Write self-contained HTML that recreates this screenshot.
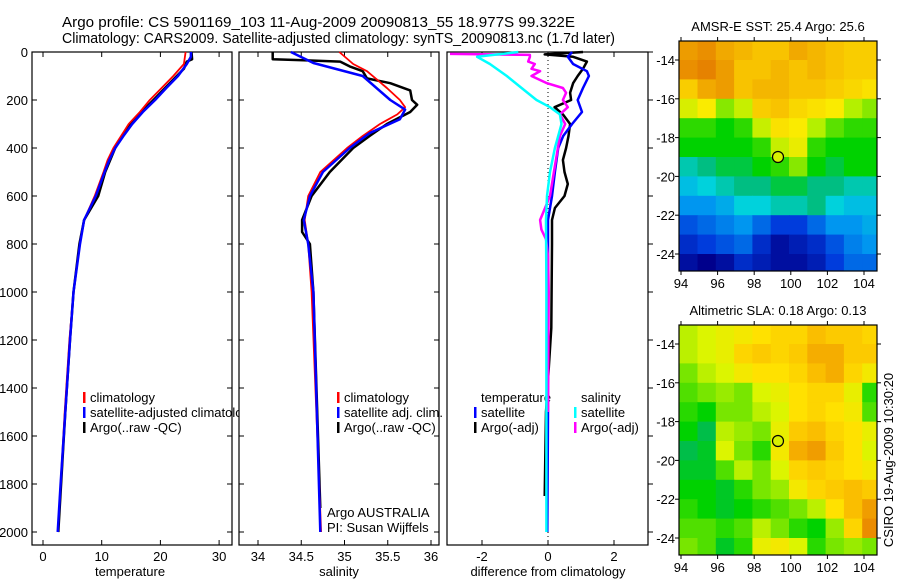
<!DOCTYPE html>
<html><head><meta charset="utf-8"><style>
html,body{margin:0;padding:0;background:#fff;}
svg{display:block;font-family:"Liberation Sans",sans-serif;}
</style></head><body>
<svg id="chart" width="900" height="580" viewBox="0 0 900 580">
<text x="62" y="27" font-size="15" textLength="513" lengthAdjust="spacingAndGlyphs">Argo profile: CS 5901169_103 11-Aug-2009 20090813_55 18.977S 99.322E</text>
<text x="62" y="43" font-size="15" textLength="553" lengthAdjust="spacingAndGlyphs">Climatology: CARS2009. Satellite-adjusted climatology: synTS_20090813.nc (1.7d later)</text>
<g id="g1"></g>
<g id="g2"></g>
<g id="g3"></g>
<g id="m1"></g>
<g id="m2"></g>
<text transform="translate(893,460) rotate(-90)" font-size="13" text-anchor="middle">CSIRO 19-Aug-2009 10:30:20</text>
</svg>
<script>
// ---- data ----
const tBlueD=[0,20,50,100,150,200,250,300,350,400,450,500,600,700,800,1000,1200,1500,1800,2000];
const tBlueV=[25.2,25.2,24.5,23.0,21.0,19.1,17.0,15.2,13.7,12.3,11.3,10.5,9.0,7.0,6.3,5.2,4.6,3.8,3.0,2.5];
const tRedD=[0,50,100,150,200,250,300,350,400,450,500,600,700,800,1000,1200,1500,1800,1880];
const tRedV=[24.3,24.0,22.2,20.2,18.2,16.5,14.6,13.3,12.0,11.0,10.3,8.8,7.0,6.3,5.2,4.5,3.7,3.0,2.8];
const tBlkD=[0,30,40,70,100,150,200,250,300,350,400,500,600,700,800,1000,1200,1500,2000];
const tBlkV=[25.3,25.4,24.5,24.0,22.8,20.8,18.8,16.8,14.8,13.5,12.3,10.6,9.4,7.0,6.2,5.2,4.6,3.8,2.6];
const sBlueD=[0,46,100,200,240,280,338,400,500,600,700,800,1000,2000];
const sBlueV=[34.38,34.64,35.21,35.53,35.70,35.64,35.29,35.06,34.75,34.60,34.53,34.58,34.64,34.72];
const sRedD=[0,50,80,150,200,230,260,300,350,400,500,600,700,800,1000,2000];
const sRedV=[34.94,35.10,35.26,35.49,35.64,35.70,35.61,35.41,35.21,35.03,34.72,34.58,34.54,34.58,34.62,34.73];
const sBlkD=[0,30,35,40,60,80,110,130,160,200,220,250,300,350,400,500,600,700,750,800,1000,1900];
const sBlkV=[34.17,34.17,34.57,34.95,35.06,35.21,35.26,35.53,35.76,35.78,35.84,35.76,35.49,35.29,35.10,34.83,34.62,34.51,34.51,34.60,34.64,34.72];
const dTsD=[0,20,50,80,100,150,200,250,300,350,400,500,600,700,1000,1500,2000];
const dTsV=[0.73,0.6,0.76,1.18,1.24,1.06,0.9,1.03,0.73,0.46,0.31,0.21,0.12,0.0,0.0,0.0,-0.02];
const dTaD=[0,10,20,40,70,100,130,170,200,230,260,300,350,400,450,500,550,600,650,700,800,1150,1500,1850];
const dTaV=[1.06,-0.1,0.76,1.18,1.06,0.9,0.76,0.67,0.7,0.2,0.45,0.67,0.62,0.55,0.45,0.5,0.6,0.5,0.21,0.12,0.12,0.1,-0.06,-0.1];
const dSsD=[0,20,50,100,150,200,230,260,300,400,500,600,700,1000,1500,2000];
const dSsV=[-0.9,-2.15,-1.76,-1.25,-0.8,-0.35,0.06,0.36,0.41,0.21,0.06,-0.03,-0.06,-0.05,-0.05,-0.05];
const dSaD=[8,12,20,40,50,70,80,100,130,150,170,200,230,260,300,350,400,500,600,700,740,780,850,1000,1500];
const dSaV=[-2.97,-0.55,-0.55,-0.6,-0.4,-0.5,-0.24,-0.5,-0.03,0.45,0.55,0.45,0.6,0.36,0.52,0.36,0.3,0.18,0.06,-0.24,-0.2,-0.06,0.0,0.02,0.0];
const depthTicks=[0,200,400,600,800,1000,1200,1400,1600,1800,2000];
const tempTicks=[0,10,20,30];
const salTicks=[34,34.5,35,35.5,36];
const diffTicks=[-2,0,2];
const lonTicks=[94,96,98,100,102,104];
const latTicks=[14,16,18,20,22,24];
const sstGrid=[
[26.6,26.7,26.5,26.4,26.3,26.3,26.5,26.4,26.3,26.2,26.2],
[26.7,26.8,26.6,26.3,26.3,26.4,26.3,26.4,26.3,26.2,26.2],
[26.2,26.5,26.6,26.3,26.4,26.4,26.3,26.3,26.2,26.1,26.0],
[25.7,25.9,25.4,25.6,26.2,26.3,26.1,26.0,25.9,25.5,25.4],
[25.2,25.2,25.1,25.2,25.6,26.0,25.9,25.5,25.3,25.2,25.2],
[25.1,25.1,25.1,25.1,25.2,25.6,25.8,25.2,25.1,25.1,25.1],
[24.8,24.9,25.0,25.0,25.1,25.2,25.4,25.1,25.0,25.1,25.1],
[24.6,24.7,24.8,24.9,24.9,25.0,25.0,24.9,24.9,24.8,24.8],
[24.4,24.4,24.5,24.7,24.7,24.8,24.8,24.9,24.7,24.6,24.6],
[24.1,24.2,24.3,24.4,24.2,24.0,24.0,24.2,24.4,24.4,24.5],
[23.9,24.0,24.1,24.2,23.9,23.7,23.8,23.9,24.1,24.3,24.4],
[23.7,23.6,23.7,23.9,23.8,23.7,23.7,23.8,24.0,24.2,24.2]];
const slaGrid=[
[0.12,0.13,0.14,0.15,0.16,0.17,0.17,0.19,0.18,0.18,0.17],
[0.12,0.13,0.14,0.17,0.18,0.17,0.18,0.20,0.20,0.18,0.18],
[0.10,0.12,0.13,0.15,0.16,0.16,0.17,0.19,0.20,0.17,0.15],
[0.09,0.10,0.11,0.10,0.13,0.14,0.16,0.17,0.17,0.14,0.08],
[0.08,0.07,0.10,0.10,0.12,0.13,0.16,0.17,0.16,0.15,0.09],
[0.07,0.05,0.12,0.11,0.10,0.14,0.18,0.19,0.17,0.16,0.14],
[0.05,0.06,0.13,0.10,0.08,0.15,0.20,0.21,0.18,0.16,0.13],
[0.06,0.06,0.09,0.12,0.10,0.13,0.17,0.18,0.17,0.16,0.15],
[0.07,0.07,0.06,0.08,0.10,0.11,0.15,0.17,0.18,0.19,0.18],
[0.08,0.07,0.06,0.07,0.08,0.09,0.10,0.12,0.16,0.19,0.21],
[0.09,0.09,0.08,0.09,0.12,0.10,0.08,0.07,0.11,0.17,0.22],
[0.10,0.09,0.06,0.08,0.14,0.15,0.13,0.08,0.10,0.11,0.10]];
const argoLon=99.3, argoLat=19.0;

// ---- helpers ----
const NS='http://www.w3.org/2000/svg';
function mk(tag,attrs,parent){const e=document.createElementNS(NS,tag);for(const k in attrs)e.setAttribute(k,attrs[k]);parent.appendChild(e);return e;}
const yD=d=>52+d*0.24;
const PT=545;
function panel(g,x0,x1,name){
  const r=mk('rect',{x:x0,y:52,width:x1-x0,height:PT-52,fill:'#fff',stroke:'#000','stroke-width':1.2},g);
  
  
}
function line(g,ds,vs,fx,color,w,name){
  const pts=ds.map((d,i)=>fx(vs[i]).toFixed(1)+','+yD(d).toFixed(1)).join(' ');
  const p=mk('polyline',{points:pts,fill:'none',stroke:color,'stroke-width':w,'stroke-linejoin':'round'},g);
  
  
}
function xticks(g,ticks,fx,labelY,name){
  ticks.forEach(t=>{
    mk('line',{x1:fx(t),x2:fx(t),y1:PT,y2:PT-5,stroke:'#000'},g);
    mk('line',{x1:fx(t),x2:fx(t),y1:52,y2:57,stroke:'#000'},g);
    const tx=mk('text',{x:fx(t),y:labelY,'font-size':13,'text-anchor':'middle'},g);
    tx.textContent=String(t);
    
    
  });
}
function legend(g,x,y0,items){
  items.forEach((it,i)=>{
    const y=y0+i*15;
    if(it[1]) mk('rect',{x:x,y:y-10,width:2.5,height:11,fill:it[1]},g);
    const t=mk('text',{x:x+7,y:y,'font-size':13},g);
    t.textContent=it[0];
    
    
  });
}
function xlabel(g,x,txt,name){const t=mk('text',{x:x,y:576,'font-size':13,'text-anchor':'middle'},g);t.textContent=txt;}

// ---- panel 1 temperature ----
const g1=document.getElementById('g1');
const fT=v=>43+v*5.87;
panel(g1,32,232,'temperature-panel');
depthTicks.forEach(d=>{
  mk('line',{x1:32,x2:37,y1:yD(d),y2:yD(d),stroke:'#000'},g1);
  mk('line',{x1:232,x2:227,y1:yD(d),y2:yD(d),stroke:'#000'},g1);
  const t=mk('text',{x:28,y:yD(d)+5,'font-size':13,'text-anchor':'end'},g1);
  t.textContent=String(d);
  
  
});
xticks(g1,tempTicks,fT,561,'temperature');
xlabel(g1,130,'temperature','temperature-axis-title');
legend(g1,83,402,[['climatology','#f00'],['satellite-adjusted climatology','#00f'],['Argo(..raw -QC)','#000']]);
line(g1,tBlkD,tBlkV,fT,'#000',2.5,'temperature-argo-line');
line(g1,tRedD,tRedV,fT,'#f00',1.8,'temperature-climatology-line');
line(g1,tBlueD,tBlueV,fT,'#00f',2.5,'temperature-satellite-line');

// ---- panel 2 salinity ----
const g2=document.getElementById('g2');
const fS=v=>258+(v-34)*86.5;
panel(g2,239,439,'salinity-panel');
depthTicks.forEach(d=>{
  mk('line',{x1:239,x2:244,y1:yD(d),y2:yD(d),stroke:'#000'},g2);
  mk('line',{x1:439,x2:434,y1:yD(d),y2:yD(d),stroke:'#000'},g2);
});
xticks(g2,salTicks,fS,561,'salinity');
xlabel(g2,339,'salinity','salinity-axis-title');
legend(g2,337,402,[['climatology','#f00'],['satellite adj. clim.','#00f'],['Argo(..raw -QC)','#000']]);
legend(g2,320,517,[['Argo AUSTRALIA',null],['PI: Susan Wijffels',null]]);
line(g2,sBlkD,sBlkV,fS,'#000',2.5,'salinity-argo-line');
line(g2,sRedD,sRedV,fS,'#f00',1.8,'salinity-climatology-line');
line(g2,sBlueD,sBlueV,fS,'#00f',2.5,'salinity-satellite-line');

// ---- panel 3 differences ----
const g3=document.getElementById('g3');
const fD=v=>548+v*33;
panel(g3,447,648,'difference-panel');
depthTicks.forEach(d=>{
  mk('line',{x1:648,x2:653,y1:yD(d),y2:yD(d),stroke:'#000'},g3);
});
mk('line',{x1:fD(0),x2:fD(0),y1:52,y2:PT,stroke:'#000','stroke-dasharray':'1,3'},g3);
xticks(g3,diffTicks,fD,561,'difference');
xlabel(g3,548,'difference from climatology','difference-axis-title');
legend(g3,474,402,[['temperature',null],['satellite','#00f'],['Argo(-adj)','#000']]);
legend(g3,574,402,[['salinity',null],['satellite','#0ff'],['Argo(-adj)','#f0f']]);
line(g3,dTaD,dTaV,fD,'#000',2.5,'temp-argo-diff-line');
line(g3,dTsD,dTsV,fD,'#00f',2.5,'temp-satellite-diff-line');
line(g3,dSaD,dSaV,fD,'#f0f',2.5,'salinity-argo-diff-line');
line(g3,dSsD,dSsV,fD,'#0ff',2.5,'salinity-satellite-diff-line');

// ---- maps ----
function interp(stops,v){
  if(v<=stops[0][0])return stops[0][1];
  for(let i=1;i<stops.length;i++){if(v<=stops[i][0]){const a=stops[i-1],b=stops[i],f=(v-a[0])/(b[0]-a[0]);return a[1].map((c,k)=>Math.round(c+(b[1][k]-c)*f));}}
  return stops[stops.length-1][1];
}
const sstStops=[[23.6,[0,0,140]],[24.0,[0,60,220]],[24.4,[0,150,240]],[24.7,[0,210,220]],[24.9,[0,190,130]],[25.1,[0,210,0]],[25.5,[180,240,0]],[25.9,[250,235,0]],[26.3,[248,195,0]],[26.8,[230,130,0]]];
const slaStops=[[0.04,[0,180,110]],[0.07,[0,210,0]],[0.10,[120,230,0]],[0.13,[220,245,0]],[0.16,[255,225,0]],[0.19,[250,190,0]],[0.22,[235,140,0]]];
function drawMap(id,top,grid,stops,title,name){
  const g=document.getElementById(id);
  const fx=lon=>681+(lon-94)*18.3, fy=lat=>top+19+(lat-14)*19.4;
  const x0=679,x1=877,y0=top,y1=top+230;
  const cp=mk('clipPath',{id:'cp'+id},g);mk('rect',{x:x0,y:y0,width:x1-x0,height:y1-y0},cp);
  const cg=mk('g',{'clip-path':'url(#cp'+id+')'},g);
  grid.forEach((row,j)=>row.forEach((v,i)=>{
    const c=interp(stops,v);
    const r=mk('rect',{x:fx(93.9+i).toFixed(1),y:fy(13+j).toFixed(1),width:19,height:20,fill:'rgb('+c.join(',')+')'},cg);
    
    
  }));
  const f=mk('rect',{x:x0,y:y0,width:x1-x0,height:y1-y0,fill:'none',stroke:'#000','stroke-width':1.2},g);
  
  
  lonTicks.forEach(l=>{
    mk('line',{x1:fx(l),x2:fx(l),y1:y0,y2:y0-4,stroke:'#000'},g);
    mk('line',{x1:fx(l),x2:fx(l),y1:y1,y2:y1+4,stroke:'#000'},g);
    const t=mk('text',{x:fx(l),y:y1+17,'font-size':13,'text-anchor':'middle'},g);t.textContent=String(l);
    
    
  });
  latTicks.forEach(l=>{
    mk('line',{x1:x0,x2:x0-4,y1:fy(l),y2:fy(l),stroke:'#000'},g);
    mk('line',{x1:x1,x2:x1+4,y1:fy(l),y2:fy(l),stroke:'#000'},g);
    const t=mk('text',{x:675,y:fy(l)+5,'font-size':13,'text-anchor':'end'},g);t.textContent='-'+l;
    
    
  });
  const c=mk('circle',{cx:fx(argoLon),cy:fy(argoLat),r:5.5,fill:'#d8f000',stroke:'#000','stroke-width':1.2},g);
  
  
  const tt=mk('text',{x:778,y:top-10,'font-size':13,'text-anchor':'middle'},g);tt.textContent=title;
  
  
}
drawMap('m1',41,sstGrid,sstStops,'AMSR-E SST: 25.4 Argo: 25.6','sst-map');
drawMap('m2',325,slaGrid,slaStops,'Altimetric SLA: 0.18 Argo: 0.13','sla-map');
</script>
</body></html>
